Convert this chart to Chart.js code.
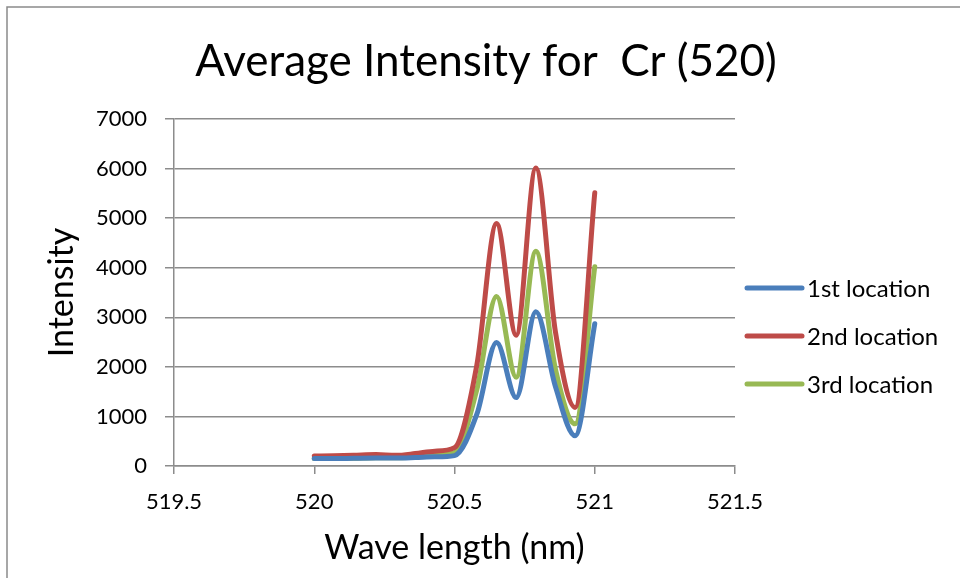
<!DOCTYPE html>
<html>
<head>
<meta charset="utf-8">
<script src="https://cdn.jsdelivr.net/npm/chart.js@4.4.1/dist/chart.umd.min.js"></script>
<style>
  html, body { margin: 0; padding: 0; background: #fff; }
  #wrap { width: 960px; height: 578px; }
</style>
</head>
<body>
<div id="wrap"><canvas id="chart" width="960" height="578"></canvas></div>
<script>
// wavelength (nm) of each reading
const waveLength = [520.00, 520.07, 520.14, 520.22, 520.29, 520.36, 520.43, 520.50,
                    520.58, 520.65, 520.72, 520.79, 520.86, 520.93, 521.00];

// average intensity at the three locations
const loc1 = [150, 150, 155, 160, 160, 170, 185, 210, 1050, 2490, 1380, 3110, 1600, 610, 2870];
const loc2 = [200, 205, 215, 230, 215, 250, 300, 370, 2050, 4890, 2640, 6010, 2700, 1180, 5510];
const loc3 = [150, 150, 155, 165, 165, 190, 230, 270, 1550, 3420, 1790, 4330, 1950, 850, 4020];

const seriesNames = ['1st location', '2nd location', '3rd location'];
const seriesColors = ['#4a7ebb', '#be4b48', '#98b954'];

const xTickLabels = ['519.5', '520', '520.5', '521', '521.5'];
const yTickLabels = ['0', '1000', '2000', '3000', '4000', '5000', '6000', '7000'];

const FONT = 'Lato, "Open Sans", sans-serif';
const GRID = '#8c8c8c';

function toPoints(ys) {
    return ys.map((y, i) => ({ x: waveLength[i], y: y }));
}

// outer frame of the chart object
const framePlugin = {
    id: 'frame',
    beforeDraw(chart) {
        const ctx = chart.ctx;
        ctx.save();
        ctx.fillStyle = '#fff';
        ctx.fillRect(0, 0, chart.width, chart.height);
        ctx.strokeStyle = '#8a8a8a';
        ctx.lineWidth = 1.5;
        ctx.beginPath();
        ctx.moveTo(7, chart.height + 5);
        ctx.lineTo(7, 7);
        ctx.lineTo(chart.width + 5, 7);
        ctx.stroke();
        ctx.restore();
    }
};

// title centred over the whole frame, not the plot
const titlePlugin = {
    id: 'bigTitle',
    afterDraw(chart) {
        const ctx = chart.ctx;
        ctx.save();
        ctx.font = '44px ' + FONT;
        ctx.fillStyle = '#000';
        ctx.textAlign = 'center';
        ctx.textBaseline = 'alphabetic';
        ctx.fillText('Average Intensity for  Cr (520)', 486, 76);
        ctx.restore();
    }
};

// Excel style legend to the right of the plot
const legendPlugin = {
    id: 'sideLegend',
    afterDraw(chart) {
        const ctx = chart.ctx;
        const x0 = chart.chartArea.right + 12;
        const rows = [288, 336, 384];
        ctx.save();
        ctx.font = '24px ' + FONT;
        ctx.textBaseline = 'middle';
        ctx.textAlign = 'left';
        chart.data.datasets.forEach((ds, i) => {
            ctx.strokeStyle = ds.borderColor;
            ctx.lineWidth = 5;
            ctx.lineCap = 'round';
            ctx.beginPath();
            ctx.moveTo(x0, rows[i]);
            ctx.lineTo(x0 + 55, rows[i]);
            ctx.stroke();
            ctx.fillStyle = '#000';
            ctx.fillText(ds.label, x0 + 60, rows[i] + 1);
        });
        ctx.restore();
    }
};

const datasets = [loc1, loc2, loc3].map((ys, i) => ({
    label: seriesNames[i],
    data: toPoints(ys),
    borderColor: seriesColors[i],
    backgroundColor: seriesColors[i],
    borderWidth: 5,
    pointRadius: 0,
    cubicInterpolationMode: 'monotone',
    borderCapStyle: 'round',
    borderJoinStyle: 'round',
    fill: false
}));

new Chart(document.getElementById('chart'), {
    type: 'line',
    data: { datasets: datasets },
    plugins: [framePlugin, titlePlugin, legendPlugin],
    options: {
        responsive: false,
        animation: false,
        events: [],
        layout: { padding: { left: 12, right: 225, top: 119, bottom: 0 } },
        plugins: {
            legend: { display: false },
            title: { display: false },
            tooltip: { enabled: false }
        },
        scales: {
            x: {
                type: 'linear',
                min: 519.5,
                max: 521.5,
                afterFit(scale) { scale.height = 112; },
                afterBuildTicks(scale) {
                    scale.ticks = xTickLabels.map(v => ({ value: parseFloat(v) }));
                },
                ticks: {
                    padding: 15,
                    color: '#000',
                    font: { family: FONT, size: 22 },
                    maxRotation: 0,
                    callback: (v, i) => xTickLabels[i]
                },
                grid: {
                    drawOnChartArea: false,
                    drawTicks: true,
                    tickLength: 8,
                    color: GRID,
                    lineWidth: 1.5
                },
                border: { color: GRID, width: 1.5 },
                title: {
                    display: true,
                    text: 'Wave length (nm)',
                    color: '#000',
                    font: { family: FONT, size: 34 },
                    padding: { top: 0, bottom: 10 }
                }
            },
            y: {
                min: 0,
                max: 7000,
                afterFit(scale) { scale.width = 162; },
                afterBuildTicks(scale) {
                    scale.ticks = yTickLabels.map(v => ({ value: Number(v) }));
                },
                ticks: {
                    padding: 18,
                    color: '#000',
                    font: { family: FONT, size: 22 },
                    callback: (v, i) => yTickLabels[i]
                },
                grid: {
                    drawTicks: true,
                    tickLength: 9,
                    color: GRID,
                    lineWidth: 1.5
                },
                border: { color: GRID, width: 1.5 },
                title: {
                    display: true,
                    text: 'Intensity',
                    color: '#000',
                    font: { family: FONT, size: 34 },
                    padding: { top: 30, bottom: 0 }
                }
            }
        }
    }
});
</script>
</body>
</html>
